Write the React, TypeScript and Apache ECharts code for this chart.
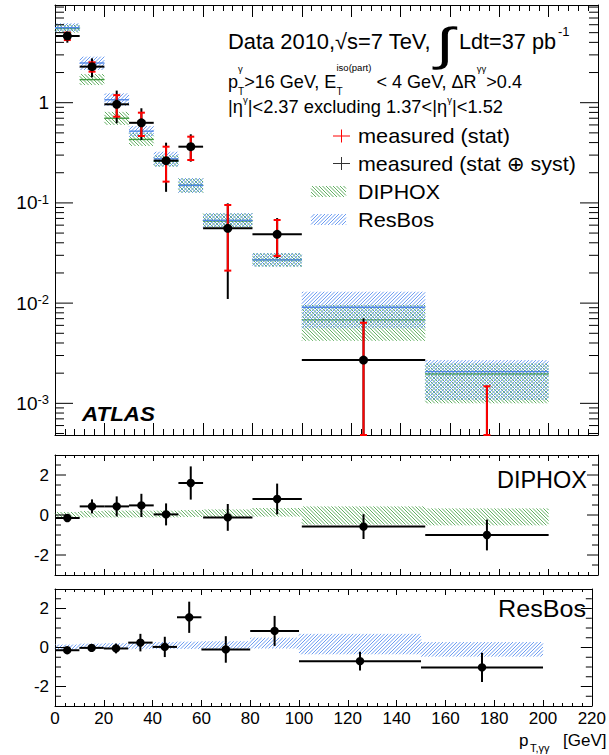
import React, { useEffect, useRef } from 'react';
import * as echarts from 'echarts';

// Bin edges in p_T,γγ [GeV]
const binLow = [0, 10, 20, 30, 40, 50, 60, 80, 100, 150];
const binHigh = [10, 20, 30, 40, 50, 60, 80, 100, 150, 200];

// Measured dσ/dp_T,γγ [pb/GeV] with stat and stat⊕syst bounds
const xsec = [4.63, 2.29, 0.964, 0.63, 0.264, 0.364, 0.0558, 0.0486, 0.0027, 0.0002];
const statLow = [4.22, 2.04, 0.725, 0.465, 0.163, 0.268, 0.0211, 0.0295, 0, 0];
const statHigh = [5.0, 2.53, 1.19, 0.795, 0.364, 0.458, 0.0953, 0.0675, 0.00637, 0.00148];
const totLow = [3.97, 1.79, 0.623, 0.425, 0.129, 0.258, 0.011, 0.0281, 0, 0];
const totHigh = [5.11, 2.77, 1.32, 0.88, 0.399, 0.484, 0.099, 0.0706, 0.00705, 0.0015];

// DIPHOX prediction: central value and uncertainty band
const diphoxCentral = [5.5, 1.7, 0.7, 0.43, 0.26, 0.15, 0.066, 0.027, 0.0068, 0.00196];
const diphoxLow = [5.0, 1.5, 0.6, 0.37, 0.23, 0.126, 0.057, 0.0231, 0.0042, 0.001];
const diphoxHigh = [6.1, 1.93, 0.81, 0.5, 0.3, 0.177, 0.079, 0.0316, 0.0096, 0.0025];

// ResBos prediction: central value and uncertainty band
const resbosCentral = [5.6, 2.49, 1.07, 0.52, 0.275, 0.15, 0.067, 0.027, 0.0091, 0.00207];
const resbosLow = [5.1, 2.12, 0.93, 0.455, 0.23, 0.126, 0.057, 0.0231, 0.0056, 0.00108];
const resbosHigh = [6.2, 2.88, 1.24, 0.585, 0.324, 0.177, 0.079, 0.0316, 0.013, 0.0027];

// Pulls with respect to DIPHOX
const diphoxPull = [-0.15, 0.43, 0.43, 0.48, 0.03, 1.6, -0.12, 0.8, -0.58, -1.0];
const diphoxPullErr = [0.1, 0.35, 0.5, 0.58, 0.55, 0.83, 0.67, 0.77, 0.62, 0.77];
const diphoxBandLow = [-0.15, -0.12, -0.12, -0.12, -0.12, -0.1, -0.1, -0.08, -0.48, -0.52];
const diphoxBandHigh = [0.15, 0.2, 0.22, 0.22, 0.22, 0.25, 0.28, 0.35, 0.43, 0.33];

// Pulls with respect to ResBos
const resbosPull = [-0.14, -0.02, -0.05, 0.25, 0.03, 1.55, -0.1, 0.85, -0.7, -1.02];
const resbosPullErr = [0.1, 0.15, 0.25, 0.45, 0.52, 0.8, 0.68, 0.77, 0.48, 0.75];
const resbosBandLow = [-0.1, -0.08, -0.08, -0.07, -0.07, -0.07, -0.07, -0.05, -0.35, -0.47];
const resbosBandHigh = [0.15, 0.2, 0.22, 0.25, 0.28, 0.3, 0.32, 0.5, 0.7, 0.28];

// Axis ranges and tick positions
const X_MIN = 0;
const X_MAX = 220;
const Y_MIN = 4.83e-4;
const Y_MAX = 9.44;
const logDecades = [1e-4, 1e-3, 1e-2, 1e-1, 1];
const logMultipliers = [2, 3, 4, 5, 6, 7, 8, 9];
const ratioMajorTicks = [-2, 0, 2];
const ratioMinorTicks = [-2.5, -1.5, -1, -0.5, 0.5, 1, 1.5, 2.5];

const FONT = "'Liberation Sans', Arial, Helvetica, 'DejaVu Sans', sans-serif";
const GREEN = '#62b062';
const GREEN_LINE = '#3f9a3f';
const BLUE = '#6c9cf2';
const BLUE_LINE = '#4f86e6';
const RED = '#ff0000';

type Line = { type: 'line'; shape: any; style: any; silent: boolean };

// Diagonal hatch lines clipped to a rectangle; dir 1 = "/", -1 = "\"
function hatchLines(ax: number, ay: number, bx: number, by: number, dir: number, step: number, stroke: string, lw = 1): Line[] {
  const x0 = Math.min(ax, bx), x1 = Math.max(ax, bx);
  const y0 = Math.min(ay, by), y1 = Math.max(ay, by);
  const out: Line[] = [];
  if (dir > 0) {
    for (let c = Math.ceil((x0 + y0) / step) * step; c <= x1 + y1; c += step) {
      const xa = Math.max(x0, c - y1), xb = Math.min(x1, c - y0);
      if (xb - xa < 0.3) continue;
      out.push({ type: 'line', shape: { x1: xa, y1: c - xa, x2: xb, y2: c - xb }, style: { stroke, lineWidth: lw }, silent: true });
    }
  } else {
    for (let c = Math.ceil((y0 - x1) / step) * step; c <= y1 - x0; c += step) {
      const xa = Math.max(x0, y0 - c), xb = Math.min(x1, y1 - c);
      if (xb - xa < 0.3) continue;
      out.push({ type: 'line', shape: { x1: xa, y1: xa + c, x2: xb, y2: xb + c }, style: { stroke, lineWidth: lw }, silent: true });
    }
  }
  return out;
}

function ln(x1: number, y1: number, x2: number, y2: number, stroke: string, lineWidth: number) {
  return { type: 'line', shape: { x1, y1, x2, y2 }, style: { stroke, lineWidth }, silent: true };
}

function xAxisCfg(gridIndex: number, position: 'top' | 'bottom', major: number, minor: number, labels: boolean) {
  return {
    type: 'value',
    gridIndex,
    position,
    min: X_MIN,
    max: X_MAX,
    interval: 20,
    axisLine: { show: true, onZero: false, lineStyle: { color: '#000', width: 1 } },
    axisTick: { show: true, inside: true, length: major, lineStyle: { color: '#000', width: 1 } },
    minorTick: { show: true, splitNumber: 5, length: minor, lineStyle: { color: '#000', width: 1 } },
    splitLine: { show: false },
    minorSplitLine: { show: false },
    axisLabel: labels
      ? { show: true, color: '#000', fontSize: 17, fontFamily: FONT, margin: 4 }
      : { show: false },
  };
}

function logLabel(v: number) {
  const l = Math.log10(v);
  const e = Math.round(l);
  if (Math.abs(l - e) > 1e-6) return '';
  return e === 0 ? '{b|1}' : `{b|10}{s|${e}}`;
}

function ratioYAxis(gridIndex: number, position: 'left' | 'right') {
  return {
    type: 'value',
    gridIndex,
    position,
    min: -3,
    max: 3,
    interval: 1,
    axisLine: { show: true, onZero: false, lineStyle: { color: '#000', width: 1 } },
    axisTick: { show: false },
    splitLine: { show: false },
    axisLabel:
      position === 'left'
        ? {
            show: true,
            color: '#000',
            fontSize: 17,
            fontFamily: FONT,
            margin: 6,
            formatter: (v: number) => (ratioMajorTicks.indexOf(v) >= 0 ? String(v) : ''),
          }
        : { show: false },
  };
}

function logYAxis(position: 'left' | 'right') {
  return {
    type: 'log',
    logBase: 10,
    gridIndex: 0,
    position,
    min: Y_MIN,
    max: Y_MAX,
    axisLine: { show: true, onZero: false, lineStyle: { color: '#000', width: 1 } },
    axisTick: { show: false },
    splitLine: { show: false },
    axisLabel:
      position === 'left'
        ? {
            show: true,
            showMinLabel: false,
            showMaxLabel: false,
            margin: 6,
            formatter: logLabel,
            rich: {
              b: { fontSize: 19, fontFamily: FONT, color: '#000', lineHeight: 20 },
              s: { fontSize: 13, fontFamily: FONT, color: '#000', lineHeight: 13, verticalAlign: 'top' },
            },
          }
        : { show: false },
  };
}

// Tick marks drawn on both vertical frame edges of a panel
function tickSeries(axisIndex: number, ticks: number[][]) {
  return {
    type: 'custom',
    xAxisIndex: axisIndex,
    yAxisIndex: axisIndex,
    silent: true,
    z: 6,
    data: ticks,
    renderItem: (params: any, api: any) => {
      const cs = params.coordSys;
      const y = api.coord([X_MIN, api.value(0)])[1];
      const len = api.value(1);
      return {
        type: 'group',
        children: [ln(cs.x, y, cs.x + len, y, '#000', 1), ln(cs.x + cs.width - len, y, cs.x + cs.width, y, '#000', 1)],
      };
    },
  };
}

function topBandSeries(central: number[], low: number[], high: number[], dir: number, hatch: string, line: string) {
  return {
    type: 'custom',
    xAxisIndex: 0,
    yAxisIndex: 0,
    silent: true,
    z: 2,
    data: binLow.map((b, i) => [b, binHigh[i], low[i], high[i], central[i]]),
    renderItem: (_params: any, api: any) => {
      const a = api.coord([api.value(0), api.value(3)]);
      const b = api.coord([api.value(1), api.value(2)]);
      const c = api.coord([api.value(0), api.value(4)]);
      const children: any[] = hatchLines(a[0], a[1], b[0], b[1], dir, 3.5, hatch, 1);
      children.push(ln(a[0], c[1], b[0], c[1], line, 1.4));
      return { type: 'group', children };
    },
  };
}

function ratioBandSeries(axisIndex: number, low: number[], high: number[], dir: number, hatch: string) {
  return {
    type: 'custom',
    xAxisIndex: axisIndex,
    yAxisIndex: axisIndex,
    silent: true,
    z: 2,
    data: binLow.map((b, i) => [b, binHigh[i], low[i], high[i]]),
    renderItem: (_params: any, api: any) => {
      const a = api.coord([api.value(0), api.value(3)]);
      const b = api.coord([api.value(1), api.value(2)]);
      return { type: 'group', children: hatchLines(a[0], a[1], b[0], b[1], dir, 3.5, hatch, 1) };
    },
  };
}

function pullSeries(axisIndex: number, pull: number[], err: number[]) {
  return {
    type: 'custom',
    xAxisIndex: axisIndex,
    yAxisIndex: axisIndex,
    silent: true,
    z: 5,
    data: binLow.map((b, i) => [b, binHigh[i], pull[i], err[i]]),
    renderItem: (_params: any, api: any) => {
      const xl = api.value(0), xh = api.value(1), p = api.value(2), e = api.value(3);
      const pl = api.coord([xl, p]);
      const pr = api.coord([xh, p]);
      const pc = api.coord([(xl + xh) / 2, p]);
      const top = api.coord([xl, p + e])[1];
      const bot = api.coord([xl, p - e])[1];
      return {
        type: 'group',
        children: [
          ln(pl[0], pl[1], pr[0], pr[1], '#000', 2),
          ln(pc[0], top, pc[0], bot, '#000', 2),
          { type: 'circle', shape: { cx: pc[0], cy: pc[1], r: 4.2 }, style: { fill: '#000' }, silent: true },
        ],
      };
    },
  };
}

function measuredSeries() {
  return {
    type: 'custom',
    xAxisIndex: 0,
    yAxisIndex: 0,
    silent: true,
    z: 5,
    data: binLow.map((b, i) => [b, binHigh[i], xsec[i], statLow[i], statHigh[i], totLow[i], totHigh[i]]),
    renderItem: (params: any, api: any) => {
      const cs = params.coordSys;
      const top = cs.y, bot = cs.y + cs.height;
      const py = (v: number) => (v <= Y_MIN ? bot : Math.max(top, Math.min(bot, api.coord([X_MIN, v])[1])));
      const xl = api.value(0), xh = api.value(1), y = api.value(2);
      const xL = api.coord([xl, 1])[0];
      const xR = api.coord([xh, 1])[0];
      const xc = api.coord([(xl + xh) / 2, 1])[0];
      const inRange = y > Y_MIN && y < Y_MAX;
      const children: any[] = [ln(xc, py(api.value(5)), xc, py(api.value(6)), '#000', 2)];
      if (inRange) children.push(ln(xL, py(y), xR, py(y), '#000', 2));
      const sl = py(api.value(3)), sh = py(api.value(4));
      children.push(ln(xc, sl, xc, sh, RED, 2));
      children.push(ln(xc - 3.5, sl, xc + 3.5, sl, RED, 2));
      children.push(ln(xc - 3.5, sh, xc + 3.5, sh, RED, 2));
      if (inRange) children.push({ type: 'circle', shape: { cx: xc, cy: py(y), r: 4.5 }, style: { fill: '#000' }, silent: true });
      return { type: 'group', children };
    },
  };
}

// ---- text helpers ----
let measureCtx: CanvasRenderingContext2D | null = null;
function textWidth(t: string, size: number, weight = 'normal', style = 'normal') {
  if (!measureCtx) measureCtx = document.createElement('canvas').getContext('2d');
  if (!measureCtx) return t.length * size * 0.55;
  measureCtx.font = `${style} ${weight} ${size}px ${FONT}`;
  return measureCtx.measureText(t).width;
}

function txt(text: string, x: number, y: number, fontSize: number, extra: any = {}, scaleX = 1) {
  return {
    type: 'text',
    x,
    y,
    scaleX,
    silent: true,
    z: 10,
    style: {
      text,
      fontSize,
      fontFamily: FONT,
      fill: '#000',
      textAlign: 'left',
      verticalAlign: 'middle',
      ...extra,
    },
  };
}

// Text stretched horizontally to span a given width
function fitText(text: string, x: number, y: number, fontSize: number, width: number, extra: any = {}) {
  const w = textWidth(text, fontSize, extra.fontWeight || 'normal', extra.fontStyle || 'normal');
  return txt(text, x, y, fontSize, extra, w > 0 ? width / w : 1);
}

type Tok = { t: string; size: number; dy: number };
type Piece = Tok | { stack: Tok[] };

// Lays out a line made of base text, superscripts and stacked sub/superscripts
function layoutLine(x0: number, y0: number, pieces: Piece[], width: number) {
  const pw = (p: Piece) =>
    'stack' in p ? Math.max(...p.stack.map((s) => textWidth(s.t, s.size))) : textWidth(p.t, p.size);
  const total = pieces.reduce((a, p) => a + pw(p), 0);
  const k = total > 0 ? width / total : 1;
  const out: any[] = [];
  let x = x0;
  pieces.forEach((p) => {
    const toks = 'stack' in p ? p.stack : [p];
    toks.forEach((s) => out.push(txt(s.t, x, y0 + s.dy, s.size, {}, k)));
    x += pw(p) * k;
  });
  return out;
}

function buildOption() {
  const logTicks: number[][] = [];
  logDecades.forEach((d) => {
    if (d >= Y_MIN && d <= Y_MAX) logTicks.push([d, 18]);
    logMultipliers.forEach((m) => {
      const v = d * m;
      if (v > Y_MIN && v < Y_MAX) logTicks.push([v, 9]);
    });
  });
  const ratioTicks = [...ratioMajorTicks.map((v) => [v, 11]), ...ratioMinorTicks.map((v) => [v, 6])];

  const legendGraphics: any[] = [
    // cross markers
    ln(333, 136, 350, 136, RED, 1),
    ln(341.5, 129.5, 341.5, 142.5, RED, 1),
    ln(333, 163.5, 350, 163.5, '#333', 1),
    ln(341.5, 157, 341.5, 170, '#333', 1),
    ...hatchLines(311, 186, 346, 197, -1, 3.5, GREEN, 1),
    ...hatchLines(311, 214, 346, 225, 1, 3.5, BLUE, 1),
  ];

  const cutsLine = layoutLine(
    228,
    82,
    [
      { t: 'p', size: 18, dy: 0 },
      { stack: [{ t: 'γ', size: 9.5, dy: -13 }, { t: 'T', size: 10, dy: 10 }] },
      { t: '>16 GeV, E', size: 18, dy: 0 },
      { stack: [{ t: 'iso(part)', size: 9.5, dy: -14 }, { t: 'T', size: 10, dy: 10 }] },
      { t: ' < 4 GeV, ΔR', size: 18, dy: 0 },
      { t: 'γγ', size: 9.5, dy: -13 },
      { t: '>0.4', size: 18, dy: 0 },
    ],
    294,
  );
  const etaLine = layoutLine(
    228,
    107,
    [
      { t: '|η', size: 18, dy: 0 },
      { t: 'γ', size: 9.5, dy: -7 },
      { t: '|<2.37 excluding 1.37<|η', size: 18, dy: 0 },
      { t: 'γ', size: 9.5, dy: -7 },
      { t: '|<1.52', size: 18, dy: 0 },
    ],
    275,
  );

  return {
    animation: false,
    backgroundColor: '#fff',
    grid: [
      { left: 55, top: 5, width: 543, height: 430 },
      { left: 55, top: 455, width: 543, height: 120 },
      { left: 55, top: 589, width: 543, height: 117 },
    ],
    xAxis: [
      xAxisCfg(0, 'bottom', 12, 6, false),
      xAxisCfg(0, 'top', 12, 6, false),
      xAxisCfg(1, 'bottom', 6, 3, false),
      xAxisCfg(1, 'top', 6, 3, false),
      xAxisCfg(2, 'bottom', 6, 3, true),
      xAxisCfg(2, 'top', 6, 3, false),
    ],
    yAxis: [logYAxis('left'), logYAxis('right'), ratioYAxis(1, 'left'), ratioYAxis(1, 'right'), ratioYAxis(2, 'left'), ratioYAxis(2, 'right')],
    series: [
      topBandSeries(diphoxCentral, diphoxLow, diphoxHigh, -1, GREEN, GREEN_LINE),
      topBandSeries(resbosCentral, resbosLow, resbosHigh, 1, BLUE, BLUE_LINE),
      measuredSeries(),
      ratioBandSeries(2, diphoxBandLow, diphoxBandHigh, -1, GREEN),
      pullSeries(2, diphoxPull, diphoxPullErr),
      ratioBandSeries(4, resbosBandLow, resbosBandHigh, 1, BLUE),
      pullSeries(4, resbosPull, resbosPullErr),
      tickSeries(0, logTicks),
      tickSeries(2, ratioTicks),
      tickSeries(4, ratioTicks),
    ],
    graphic: {
      elements: [
        fitText('Data 2010,√s=7 TeV,', 228, 42, 21.5, 203),
        txt('∫', 436, 44, 46, {}, 1.45),
        fitText('Ldt=37 pb', 459, 42, 21.5, 97),
        txt('-1', 558, 31, 13),
        ...cutsLine,
        ...etaLine,
        fitText('measured (stat)', 358, 136, 20.5, 152),
        fitText('measured (stat ⊕ syst)', 358, 163.5, 20.5, 218),
        fitText('DIPHOX', 358, 191.5, 20.5, 82),
        fitText('ResBos', 358, 219.5, 20.5, 76),
        fitText('ATLAS', 82, 414, 21, 73, { fontWeight: 'bold', fontStyle: 'italic' }),
        fitText('DIPHOX', 587, 480, 23, 90, { textAlign: 'right' }),
        fitText('ResBos', 586, 609, 23, 88, { textAlign: 'right' }),
        txt('p', 519, 740, 17),
        txt('T,γγ', 530, 748, 11),
        txt('[GeV]', 563, 740, 17),
        { type: 'group', silent: true, z: 10, children: legendGraphics },
      ],
    },
  };
}

export default function App() {
  const ref = useRef<HTMLDivElement>(null);
  useEffect(() => {
    if (!ref.current) return;
    const chart = echarts.init(ref.current, undefined, { renderer: 'svg' });
    chart.setOption(buildOption() as any);
    return () => chart.dispose();
  }, []);
  return (
    <div
      ref={ref}
      style={{ position: 'absolute', left: 0, top: 0, width: 609, height: 755, background: '#fff' }}
    />
  );
}
